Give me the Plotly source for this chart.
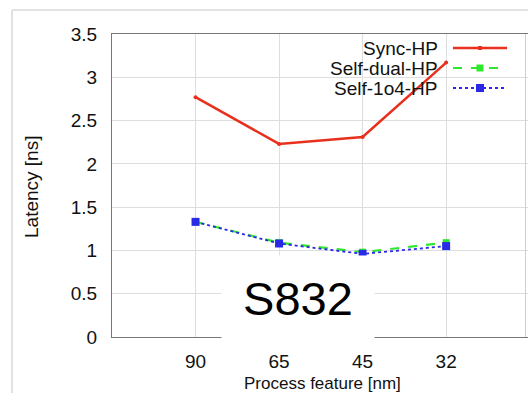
import plotly.graph_objects as go

# Process nodes (nm) and measured latencies (ns)
features = ["90", "65", "45", "32"]
sync_hp = [2.77, 2.23, 2.31, 3.17]
self_dual_hp = [1.33, 1.09, 0.98, 1.09]
self_1o4_hp = [1.33, 1.08, 0.96, 1.05]

series_names = ["Sync-HP", "Self-dual-HP", "Self-1o4-HP"]
y_ticks = [0, 0.5, 1, 1.5, 2, 2.5, 3, 3.5]
y_tick_text = ["0", "0.5", "1", "1.5", "2", "2.5", "3", "3.5"]

W, H = 528, 393
L, R, T, B = 112, 0, 34, 56
PW, PH = W - L - R, H - T - B

FONT = "Liberation Sans, Arial, sans-serif"
RED = "#e8301e"
GREEN = "#2ee82e"
BLUE = "#2a2ae6"


def px_x(x):
    return (x - L) / PW


def px_y(y):
    return (H - B - y) / PH


fig = go.Figure()
fig.add_trace(go.Scatter(
    x=features, y=sync_hp, name=series_names[0], mode="lines+markers",
    line=dict(color=RED, width=2.5), marker=dict(size=4, color=RED),
))
fig.add_trace(go.Scatter(
    x=features, y=self_dual_hp, name=series_names[1], mode="lines+markers",
    line=dict(color=GREEN, width=2.2, dash="dash"),
    marker=dict(size=7, color=GREEN, symbol="square"),
))
fig.add_trace(go.Scatter(
    x=features, y=self_1o4_hp, name=series_names[2], mode="lines+markers",
    line=dict(color=BLUE, width=1.8, dash="dot"),
    marker=dict(size=8, color=BLUE, symbol="square"),
))

shapes = []
annotations = []

# Outer slide frame
shapes.append(dict(type="line", xref="paper", yref="paper",
                   x0=px_x(12), x1=px_x(12), y0=px_y(10), y1=px_y(H + 5),
                   line=dict(color="#d8d8d8", width=1.5)))
shapes.append(dict(type="line", xref="paper", yref="paper",
                   x0=px_x(12), x1=px_x(W + 5), y0=px_y(10), y1=px_y(10),
                   line=dict(color="#d8d8d8", width=1.5)))
# Right border of the plot frame
shapes.append(dict(type="line", xref="paper", yref="paper",
                   x0=px_x(525.5), x1=px_x(525.5), y0=0, y1=1,
                   line=dict(color="#cfcfcf", width=1)))

# Legend: labels right-aligned, line samples to the right
legend_rows = [48, 68, 88]
legend_styles = [
    (RED, "solid", 2.5, 4),
    (GREEN, "dash", 2.2, 7),
    (BLUE, "dot", 1.8, 8),
]
for name, yrow, (col, dash, w, ms) in zip(series_names, legend_rows, legend_styles):
    annotations.append(dict(
        text=name, xref="paper", yref="paper", x=px_x(440), y=px_y(yrow),
        xanchor="right", yanchor="middle", showarrow=False,
        font=dict(family=FONT, size=19, color="#111111"),
    ))
    shapes.append(dict(type="line", xref="paper", yref="paper",
                       x0=px_x(453), x1=px_x(507), y0=px_y(yrow), y1=px_y(yrow),
                       line=dict(color=col, width=w, dash=dash)))
    shapes.append(dict(type="rect", xref="paper", yref="paper",
                       x0=px_x(480 - ms / 2), x1=px_x(480 + ms / 2),
                       y0=px_y(yrow + ms / 2), y1=px_y(yrow - ms / 2),
                       fillcolor=col, line=dict(width=0)))

# Axis titles
annotations.append(dict(
    text="Latency [ns]", xref="paper", yref="paper", x=px_x(31), y=px_y(187),
    xanchor="center", yanchor="middle", textangle=-90, showarrow=False,
    font=dict(family=FONT, size=19, color="#111111"),
))
annotations.append(dict(
    text="Process feature [nm]", xref="paper", yref="paper", x=px_x(322), y=px_y(383),
    xanchor="center", yanchor="middle", showarrow=False,
    font=dict(family=FONT, size=17, color="#111111"),
))

# Benchmark label on a white box
annotations.append(dict(
    text="S832", xref="paper", yref="paper", x=px_x(298), y=px_y(298.5),
    xanchor="center", yanchor="middle", showarrow=False,
    width=150, height=83, bgcolor="white",
    font=dict(family=FONT, size=47, color="#000000"),
))

fig.update_layout(
    width=W, height=H,
    margin=dict(l=L, r=R, t=T, b=B, pad=0),
    paper_bgcolor="white", plot_bgcolor="white",
    showlegend=False,
    shapes=shapes, annotations=annotations,
    font=dict(family=FONT, size=19, color="#111111"),
)
fig.update_xaxes(
    type="category", range=[-1, 3.98],
    showgrid=True, gridcolor="#dedede", gridwidth=1,
    showline=True, linecolor="#777777", linewidth=1.2, mirror=True,
    ticks="", ticklabelstandoff=7, zeroline=False,
    tickfont=dict(family=FONT, size=19, color="#111111"),
)
fig.update_yaxes(
    range=[0, 3.5], tickvals=y_ticks, ticktext=y_tick_text,
    showgrid=True, gridcolor="#dedede", gridwidth=1,
    showline=True, linecolor="#777777", linewidth=1.2, mirror=False,
    ticks="", ticklabelstandoff=10, zeroline=False,
    tickfont=dict(family=FONT, size=19, color="#111111"),
)

fig.write_html("out.html")
